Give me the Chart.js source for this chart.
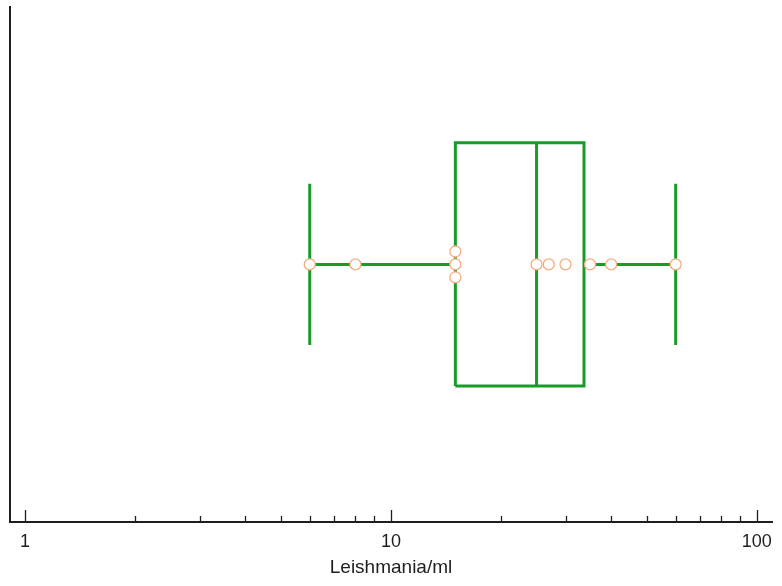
<!DOCTYPE html>
<html>
<head>
<meta charset="utf-8">
<script src="https://cdn.jsdelivr.net/npm/chart.js@4.4.0/dist/chart.umd.min.js"></script>
<style>
html,body{margin:0;padding:0;background:#fff;}
#wrap{width:782px;height:586px;}
</style>
</head>
<body>
<div id="wrap"><canvas id="c" width="782" height="586"></canvas></div>
<script>
// ---- data ----
const observations = [6, 8, 15, 15, 15, 25, 27, 30, 35, 40, 60];
const boxQuartiles = [15, 25, 33.7];      // Q1, median, Q3
const whiskerEnds = [6, 60];              // low, high
const majorTicks = [1, 10, 100];
const minorTicks = [2, 3, 4, 5, 6, 7, 8, 9, 20, 30, 40, 50, 60, 70, 80, 90];
const axisTitle = 'Leishmania/ml';

// ---- styling ----
const GREEN = 'rgb(24,155,40)';
const ORANGE = 'rgb(246,172,128)';
const AXIS = '#1e1e1e';
const boxHalf = 0.472, capHalf = 0.313, stackStep = 0.05;

// stacked duplicates: spread symmetrically around the center line
const counts = {};
observations.forEach(v => counts[v] = (counts[v] || 0) + 1);
const seen = {};
const pointData = observations.map(v => {
  const k = seen[v] = (seen[v] === undefined ? 0 : seen[v] + 1);
  return {x: v, y: (k - (counts[v] - 1) / 2) * stackStep * -1};
});

const [q1, med, q3] = boxQuartiles;
const [wLo, wHi] = whiskerEnds;
const lineDs = (data) => ({
  data, showLine: true, borderColor: GREEN, borderWidth: 3, pointRadius: 0,
  fill: false, order: 2, borderCapStyle: 'butt', borderJoinStyle: 'miter', tension: 0
});

const tickPlugin = {
  id: 'inwardTicks',
  afterDatasetsDraw(chart) {
    const xs = chart.scales.x, ctx = chart.ctx, bottom = chart.chartArea.bottom;
    ctx.save();
    ctx.strokeStyle = AXIS;
    ctx.lineWidth = 1.3;
    xs.ticks.forEach(t => {
      const px = Math.round(xs.getPixelForValue(t.value)) + 0.5;
      const len = majorTicks.includes(t.value) ? 12 : 6;
      ctx.beginPath();
      ctx.moveTo(px, bottom);
      ctx.lineTo(px, bottom - len);
      ctx.stroke();
    });
    ctx.restore();
  }
};

new Chart(document.getElementById('c'), {
  type: 'scatter',
  data: {
    datasets: [
      {
        data: pointData, pointRadius: 5.5, pointBackgroundColor: '#ffffff',
        pointBorderColor: ORANGE, pointBorderWidth: 1.3, showLine: false, order: 0
      },
      lineDs([{x: q1, y: -boxHalf}, {x: q3, y: -boxHalf}, {x: q3, y: boxHalf}, {x: q1, y: boxHalf}, {x: q1, y: -boxHalf}]),
      lineDs([{x: med, y: -boxHalf}, {x: med, y: boxHalf}]),
      lineDs([{x: wLo, y: 0}, {x: q1, y: 0}]),
      lineDs([{x: q3, y: 0}, {x: wHi, y: 0}]),
      lineDs([{x: wLo, y: -capHalf}, {x: wLo, y: capHalf}]),
      lineDs([{x: wHi, y: -capHalf}, {x: wHi, y: capHalf}])
    ]
  },
  options: {
    responsive: false,
    animation: false,
    layout: {padding: {left: 10, top: 5, right: 10, bottom: 0}},
    plugins: {legend: {display: false}, tooltip: {enabled: false}},
    scales: {
      x: {
        type: 'logarithmic',
        min: 0.91, max: 110,
        afterBuildTicks(scale) {
          scale.ticks = majorTicks.concat(minorTicks).sort((a, b) => a - b).map(v => ({value: v}));
        },
        afterFit(scale) {
          scale.height = 64;
          scale.paddingLeft = 0; scale.paddingRight = 0;
        },
        ticks: {
          autoSkip: false, maxRotation: 0, padding: 9, color: '#1e1e1e',
          font: {family: 'Liberation Sans, Arial, sans-serif', size: 18},
          callback: (v) => majorTicks.includes(v) ? String(v) : ''
        },
        grid: {display: true, drawOnChartArea: false, drawTicks: false},
        border: {display: true, color: AXIS, width: 2},
        title: {
          display: true, text: axisTitle, color: '#1e1e1e',
          font: {family: 'Liberation Sans, Arial, sans-serif', size: 19},
          padding: {top: 7, bottom: 7}
        }
      },
      y: {
        min: -1, max: 1,
        afterFit(scale) { scale.width = 0; scale.paddingTop = 0; scale.paddingBottom = 0; },
        ticks: {display: false},
        grid: {display: false},
        border: {display: true, color: AXIS, width: 2}
      }
    }
  },
  plugins: [tickPlugin]
});
</script>
</body>
</html>
